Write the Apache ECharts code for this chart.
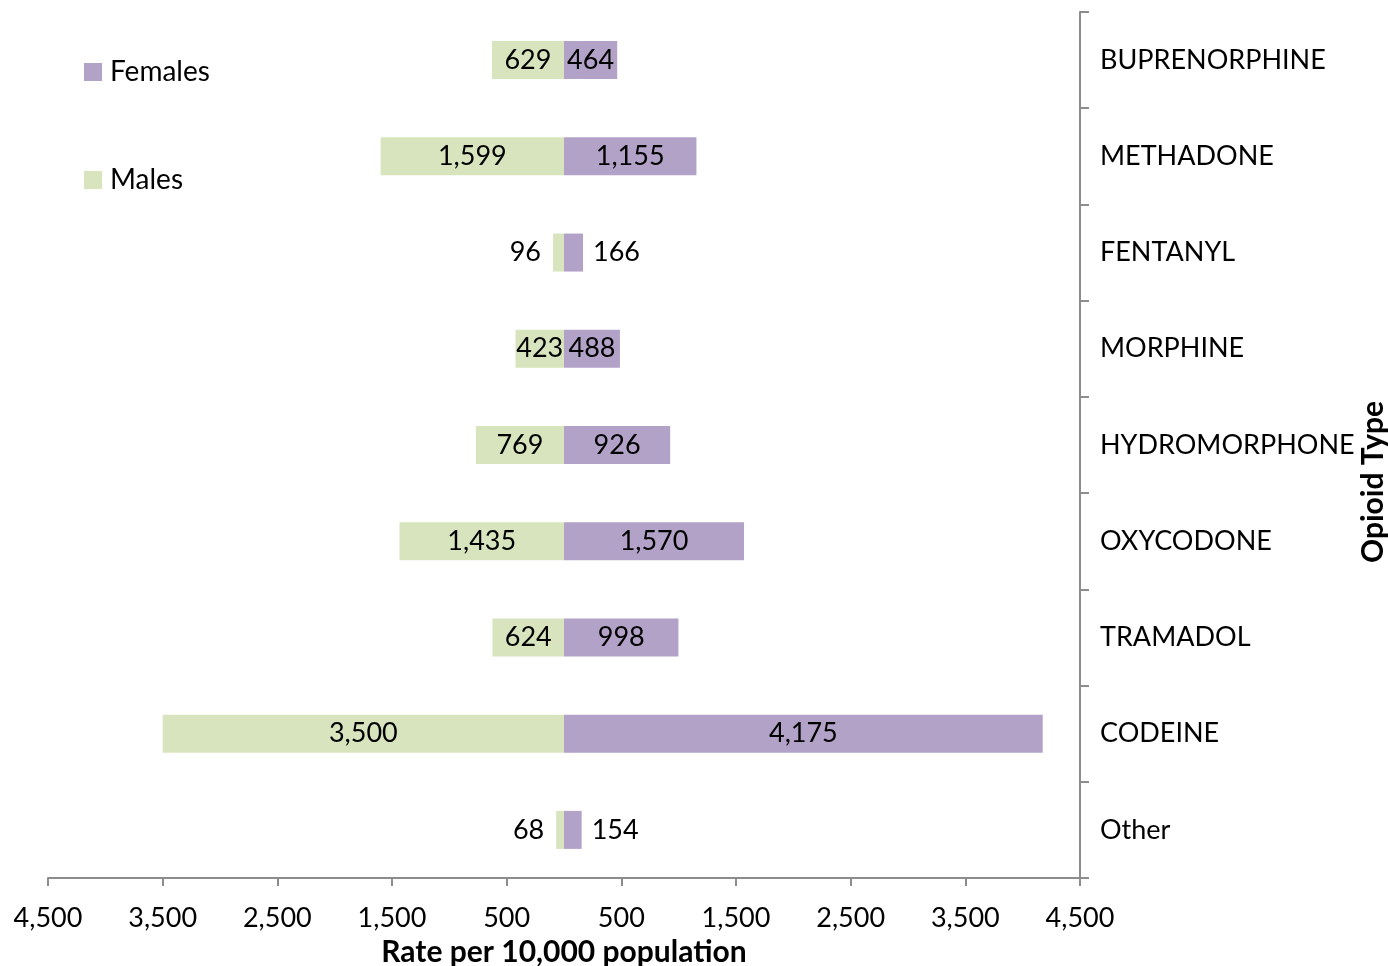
<!DOCTYPE html>
<html>
<head>
<meta charset="utf-8">
<style>
  html, body { margin: 0; padding: 0; background: #fff; }
  #chart { width: 1388px; height: 966px; }
</style>
<script src="https://cdn.jsdelivr.net/npm/echarts@6/dist/echarts.min.js"></script>
</head>
<body>
<div id="chart"></div>
<script>
// Opioid types, top to bottom
const categories = ['BUPRENORPHINE', 'METHADONE', 'FENTANYL', 'MORPHINE', 'HYDROMORPHONE', 'OXYCODONE', 'TRAMADOL', 'CODEINE', 'Other'];
// Rate per 10,000 population
const males = [629, 1599, 96, 423, 769, 1435, 624, 3500, 68];
const females = [464, 1155, 166, 488, 926, 1570, 998, 4175, 154];
// Tick positions on the rate axis (males plotted to the left of zero)
const rateTicks = [-4500, -3500, -2500, -1500, -500, 500, 1500, 2500, 3500, 4500];

const FONT = 'Lato';
const FS = 27;
const FS_NAME = 30;
const fmt = v => Math.abs(v).toLocaleString('en-US');
const SMALL = 300; // bars too short to hold their label get it outside

const chart = echarts.init(document.getElementById('chart'));
chart.setOption({
  animation: false,
  textStyle: { fontFamily: FONT, color: '#000' },
  legend: {
    data: ['Females', 'Males'],
    orient: 'vertical',
    left: 84,
    top: 58,
    padding: 0,
    itemWidth: 18,
    itemHeight: 18,
    itemGap: 80,
    icon: 'rect',
    textStyle: { fontFamily: FONT, fontSize: 28, color: '#000', padding: [0, 0, 0, 3] }
  },
  grid: { left: 48, right: 308, top: 12, bottom: 88, outerBoundsMode: 'none', containLabel: false },
  xAxis: {
    type: 'value',
    min: -4500,
    max: 4500,
    name: 'Rate per 10,000 population',
    nameLocation: 'middle',
    nameGap: 59,
    nameMoveOverlap: false,
    nameTextStyle: { fontFamily: FONT, fontSize: FS_NAME, fontWeight: 'bold', color: '#000' },
    axisLine: { show: true, lineStyle: { color: '#8c8c8c', width: 2 } },
    axisTick: { show: true, length: 8, lineStyle: { color: '#8c8c8c', width: 2 }, customValues: rateTicks },
    axisLabel: { customValues: rateTicks, formatter: fmt, fontFamily: FONT, fontSize: FS, color: '#000', margin: 27 },
    splitLine: { show: false }
  },
  yAxis: {
    type: 'category',
    data: categories,
    inverse: true,
    position: 'right',
    name: 'Opioid Type',
    nameLocation: 'middle',
    nameGap: 278,
    nameRotate: 90,
    nameMoveOverlap: false,
    nameTextStyle: { fontFamily: FONT, fontSize: FS_NAME, fontWeight: 'bold', color: '#000', padding: [0, 74, 0, 0] },
    axisLine: { show: true, onZero: false, lineStyle: { color: '#8c8c8c', width: 2 } },
    axisTick: { show: true, length: 9, lineStyle: { color: '#8c8c8c', width: 2 } },
    axisLabel: { fontFamily: FONT, fontSize: FS, color: '#000', margin: 20, align: 'left' },
    splitLine: { show: false }
  },
  series: [
    {
      name: 'Females',
      type: 'bar',
      barWidth: 38,
      barGap: '-100%',
      itemStyle: { color: '#b3a2c7' },
      data: females.map(v => ({
        value: v,
        label: { position: v < SMALL ? 'right' : 'inside', distance: 10 }
      })),
      label: { show: true, formatter: p => fmt(p.value), fontFamily: FONT, fontSize: FS, color: '#000' }
    },
    {
      name: 'Males',
      type: 'bar',
      barWidth: 38,
      itemStyle: { color: '#d7e4bd' },
      data: males.map(v => ({
        value: -v,
        label: { position: v < SMALL ? 'left' : 'inside', distance: 12 }
      })),
      label: { show: true, formatter: p => fmt(p.value), fontFamily: FONT, fontSize: FS, color: '#000' }
    }
  ]
});
</script>
</body>
</html>
